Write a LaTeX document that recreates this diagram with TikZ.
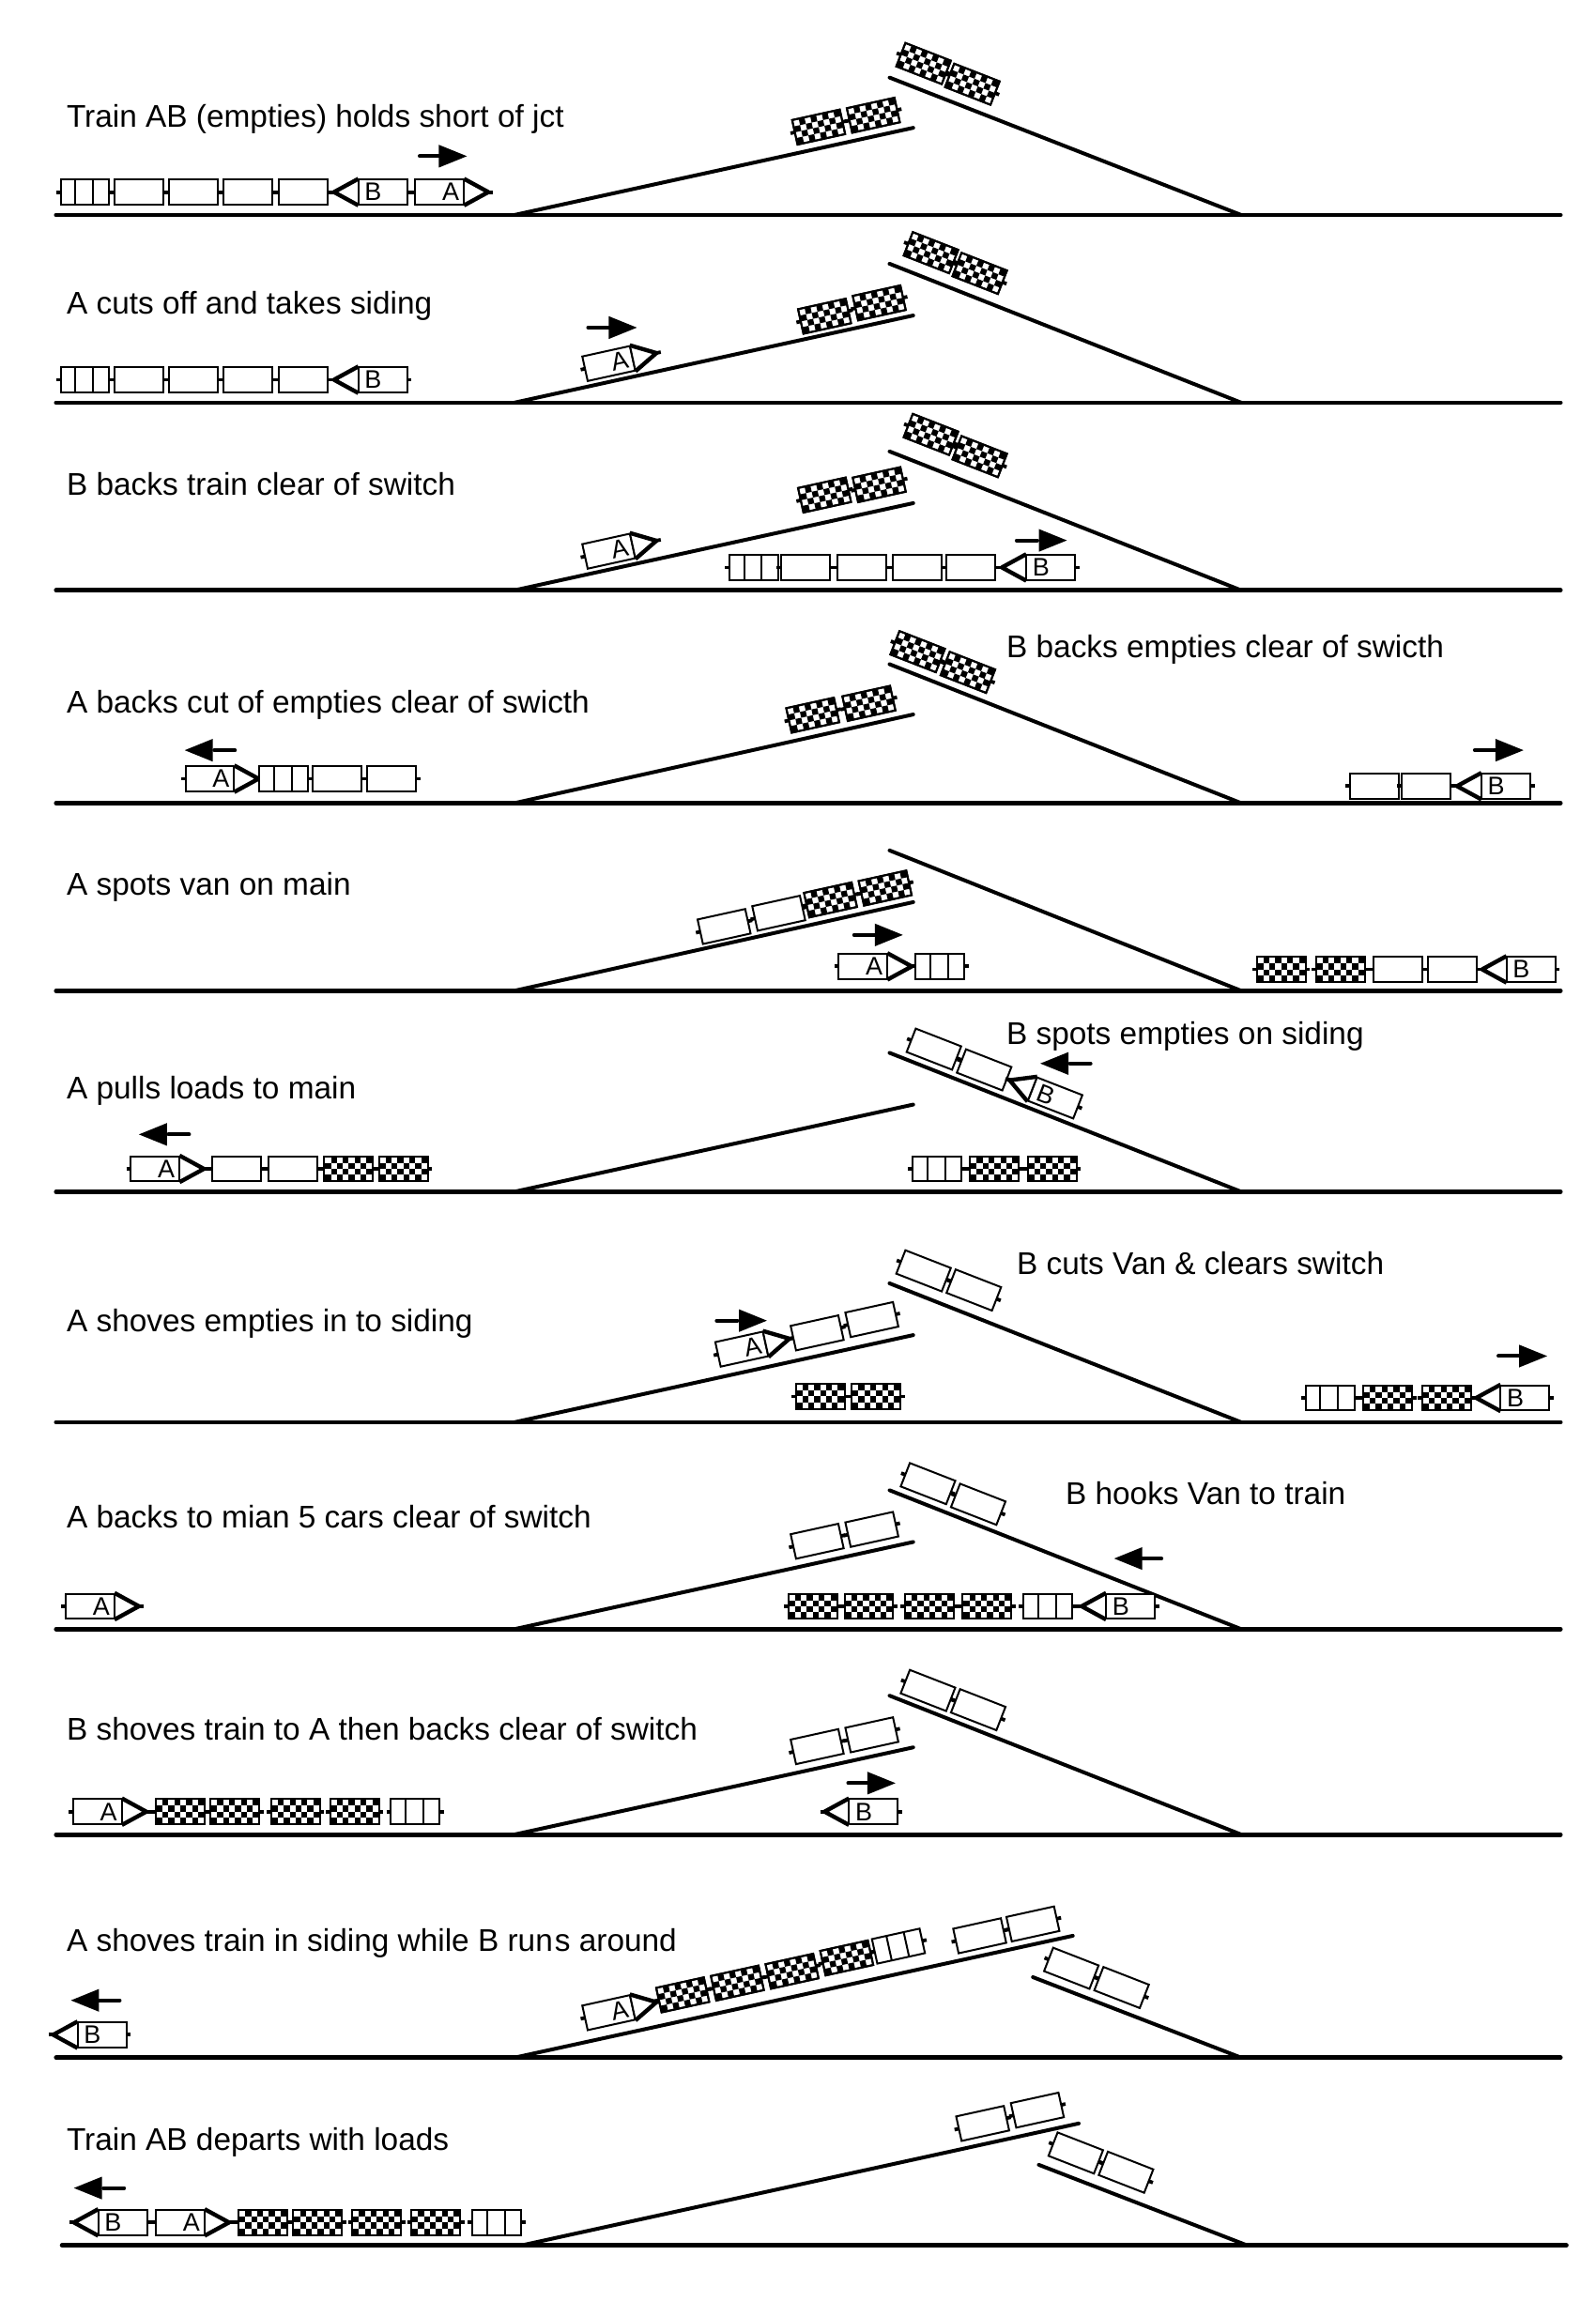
\documentclass[tikz,border=0pt]{standalone}
\usepackage{fontspec}
\setmainfont{Liberation Sans}
\tikzset{
  track/.style={line width=4pt,line cap=round,black},
  maintrack/.style={line width=4.8pt,line cap=round,black},
  body/.style={draw=black,line width=2pt,fill=white},
  coupler/.style={line width=3.8pt,black},
  nose/.style={draw=black,line width=4.4pt,fill=white,line join=round},
  captext/.style={anchor=west,inner sep=0pt,yshift=-3pt,text height=24pt,text depth=7pt,font=\fontsize{33.4}{38}\selectfont},
  loconum/.style={inner sep=0pt,font=\fontsize{27}{29}\selectfont,transform shape},
  dirhead/.style={fill=black,draw=none},
  dirtail/.style={line width=4pt,line cap=round,black}
}
\newcounter{lbl}
% plain wagon
\newcommand\carplain[3]{\begin{scope}[shift={(#1,#2)},rotate=#3]
  \draw[coupler] (-19.5,0)--(19.5,0);
  \draw[body] (-16.5,-8.5) rectangle (16.5,8.5);
\end{scope}}
% van
\newcommand\carvan[3]{\begin{scope}[shift={(#1,#2)},rotate=#3]
  \draw[coupler] (-19.5,0)--(19.5,0);
  \draw[body] (-16.5,-8.5) rectangle (16.5,8.5);
  \draw[line width=2pt] (-6.5,-8.5)--(-6.5,8.5) (5.5,-8.5)--(5.5,8.5);
\end{scope}}
% loaded wagon with checks
\newcommand\carcheck[3]{\begin{scope}[shift={(#1,#2)},rotate=#3]
  \draw[coupler] (-19.5,0)--(19.5,0);
  \draw[body] (-16.5,-8.5) rectangle (16.5,8.5);
  \foreach \i in {0,...,7}{\foreach \j in {0,...,3}{
    \pgfmathparse{int(mod(\i+\j,2))}
    \ifnum\pgfmathresult=1
      \fill[black] (-16+4*\i,-8+4*\j) rectangle ++(4,4);
    \fi}}
  \draw[draw=black,line width=2pt] (-16.5,-8.5) rectangle (16.5,8.5);
\end{scope}}
% loco, nose to the right
\newcommand\locoR[4]{\begin{scope}[shift={(#1,#2)},rotate=#3]
  \stepcounter{lbl}
  \draw[coupler] (-19.5,0)--(-16.5,0);
  \draw[coupler] (32,0)--(36,0);
  \draw[body] (-16.5,-8.5) rectangle (16.5,8.5);
  \draw[nose] (16.5,-9)--(33,0)--(16.5,9);
  \draw[line width=2pt] (16.5,-8.5)--(16.5,8.5);
  \node[loconum] (num\thelbl) at (7.5,0) {#4};
\end{scope}}
% loco, nose to the left
\newcommand\locoL[4]{\begin{scope}[shift={(#1,#2)},rotate=#3]
  \stepcounter{lbl}
  \draw[coupler] (16.5,0)--(19.5,0);
  \draw[coupler] (-36,0)--(-32,0);
  \draw[body] (-16.5,-8.5) rectangle (16.5,8.5);
  \draw[nose] (-16.5,-9)--(-33,0)--(-16.5,9);
  \draw[line width=2pt] (-16.5,-8.5)--(-16.5,8.5);
  \node[loconum] (num\thelbl) at (-6.5,0) {#4};
\end{scope}}
% direction arrows
\newcommand\moveR[3]{
  \draw[dirtail] (#1,#3+0.7)--(#1+14,#3+0.7);
  \fill[dirhead] (#2-19,#3-7)--(#2,#3+0.7)--(#2-19,#3+8.4)--cycle;}
\newcommand\moveL[3]{
  \draw[dirtail] (#2,#3+0.7)--(#2-14,#3+0.7);
  \fill[dirhead] (#1+19,#3-7)--(#1,#3+0.7)--(#1+19,#3+8.4)--cycle;}
% tracks: main y, siding rise, second rise
\newcommand\tracks[3]{
  \draw[track] (348,#1)--(618,#1-#2);
  \draw[track] (602,#1-#3)--(840,#1);
  \draw[maintrack] (38,#1)--(1056,#1);}
\newcommand\frametext[4]{\node[captext] (#1) at (#2,#3) {#4};}
\begin{document}
\begin{tikzpicture}[x=1.57407pt,y=-1.57407pt]
\useasboundingbox[fill=white] (0,0) rectangle (1080,1568);

% ---------- 1
\tracks{145.5}{59}{93}
\frametext{t1}{45}{78.5}{Train AB (empties) holds short of jct}
\carvan{57.5}{130}{0}\carplain{94}{130}{0}\carplain{131}{130}{0}\carplain{168}{130}{0}\carplain{205}{130}{0}
\locoL{259}{130}{0}{B}\locoR{297.5}{130}{0}{A}
\moveR{284}{316}{105}
\carcheck{554}{86}{12.4}\carcheck{591}{78}{12.4}
\carcheck{625}{43}{-21.3}\carcheck{658}{57}{-21.3}

% ---------- 2
\tracks{272.5}{59}{94}
\frametext{t2}{45}{205.5}{A cuts off and takes siding}
\carvan{57.5}{257}{0}\carplain{94}{257}{0}\carplain{131}{257}{0}\carplain{168}{257}{0}\carplain{205}{257}{0}
\locoL{259}{257}{0}{B}
\locoR{412}{246}{12.4}{A}
\moveR{398}{431}{221}
\carcheck{558}{214}{12.4}\carcheck{595}{205}{12.4}
\carcheck{630}{171}{-21.3}\carcheck{663}{185}{-21.3}

% ---------- 3
\tracks{399.5}{59}{94}
\frametext{t3}{45}{328}{B backs train clear of switch}
\locoR{412}{373}{12.4}{A}
\carcheck{558}{335}{12.4}\carcheck{595}{328}{12.4}
\carcheck{630}{294}{-21.3}\carcheck{663}{309}{-21.3}
\carvan{510}{384}{0}\carplain{545}{384}{0}\carplain{583}{384}{0}\carplain{621}{384}{0}\carplain{657}{384}{0}
\locoL{711}{384}{0}{B}
\moveR{688}{722}{365}

% ---------- 4
\tracks{543.5}{60}{94}
\frametext{t4}{45}{475.5}{A backs cut of empties clear of swicth}
\frametext{t4b}{681}{437.5}{B backs empties clear of swicth}
\moveL{125}{159}{507}
\locoR{142}{527}{0}{A}\carvan{192}{527}{0}\carplain{228}{527}{0}\carplain{265}{527}{0}
\carcheck{550}{484}{12.4}\carcheck{588}{476}{12.4}
\carcheck{621}{441}{-21.3}\carcheck{655}{455}{-21.3}
\carplain{930}{532}{0}\carplain{965}{532}{0}\locoL{1019}{532}{0}{B}
\moveR{998}{1031}{507}

% ---------- 5
\tracks{670.5}{60}{95}
\frametext{t5}{45}{598.5}{A spots van on main}
\carplain{490}{627}{12.4}\carplain{527}{618}{12.4}\carcheck{562}{609}{12.4}\carcheck{599}{601}{12.4}
\locoR{584}{654}{0}{A}\carvan{636}{654}{0}
\moveR{578}{611}{632}
\carcheck{867}{656}{0}\carcheck{907}{656}{0}\carplain{946}{656}{0}\carplain{983}{656}{0}\locoL{1036}{656}{0}{B}

% ---------- 6
\tracks{806.5}{59}{94}
\frametext{t6}{45}{736.5}{A pulls loads to main}
\frametext{t6b}{681}{699.5}{B spots empties on siding}
\moveL{94}{128}{767}
\locoR{105}{791}{0}{A}\carplain{160}{791}{0}\carplain{198}{791}{0}\carcheck{236}{791}{0}\carcheck{273}{791}{0}
\carvan{634}{791}{0}\carcheck{673}{791}{0}\carcheck{712}{791}{0}
\carplain{632}{710}{-21.3}\carplain{666}{724}{-21.3}\locoL{714}{743}{-21.3}{B}
\moveL{704}{738}{719}

% ---------- 7
\tracks{962.5}{59}{94}
\frametext{t7}{45}{894}{A shoves empties in to siding}
\frametext{t7b}{688}{855}{B cuts Van \& clears switch}
\locoR{502}{913}{12.4}{A}\carplain{553}{902}{12.4}\carplain{590}{893}{12.4}
\moveR{485}{519}{893}
\carcheck{555}{945}{0}\carcheck{593}{945}{0}
\carplain{625}{860}{-21.3}\carplain{659}{873}{-21.3}
\carvan{900}{946}{0}\carcheck{939}{946}{0}\carcheck{979}{946}{0}\locoL{1032}{946}{0}{B}
\moveR{1014}{1047}{917}

% ---------- 8
\tracks{1102.5}{59}{94}
\frametext{t8}{45}{1026.5}{A backs to mian 5 cars clear of switch}
\frametext{t8b}{721}{1011}{B hooks Van to train}
\locoR{61}{1087}{0}{A}
\carplain{553}{1043}{12.4}\carplain{590}{1035}{12.4}
\carplain{628}{1004}{-21.3}\carplain{662}{1018}{-21.3}
\carcheck{550}{1087}{0}\carcheck{588}{1087}{0}\carcheck{629}{1087}{0}\carcheck{668}{1087}{0}\carvan{709}{1087}{0}\locoL{765}{1087}{0}{B}
\moveL{754}{786}{1054}

% ---------- 9
\tracks{1241.5}{59}{94}
\frametext{t9}{45}{1170}{B shoves train to A then backs clear of switch}
\locoR{66}{1226}{0}{A}\carcheck{122}{1226}{0}\carcheck{159}{1226}{0}\carcheck{200}{1226}{0}\carcheck{240}{1226}{0}\carvan{281}{1226}{0}
\carplain{553}{1182}{12.4}\carplain{590}{1174}{12.4}
\carplain{628}{1144}{-21.3}\carplain{662}{1157}{-21.3}
\locoL{591}{1226}{0}{B}
\moveR{574}{606}{1206}

% ---------- 10
\draw[track] (348,1392.5)--(726,1310);
\draw[track] (699,1338)--(840,1392.5);
\draw[maintrack] (38,1392.5)--(1056,1392.5);
\frametext{t10}{45}{1313}{A shoves train in siding while B run\hspace{2pt}s around}
\moveL{48}{81}{1353}
\locoL{69}{1377}{0}{B}
\locoR{412}{1362}{12.4}{A}\carcheck{462}{1350}{12.4}\carcheck{499}{1342}{12.4}\carcheck{536}{1334}{12.4}\carcheck{573}{1325}{12.4}\carvan{608}{1317}{12.4}
\carplain{663}{1310}{12.4}\carplain{699}{1302}{12.4}
\carplain{725}{1332}{-21.3}\carplain{759}{1345}{-21.3}

% ---------- 11
\draw[track] (353,1519.5)--(730,1437);
\draw[track] (703,1465)--(844,1519.5);
\draw[maintrack] (42,1519.5)--(1060,1519.5);
\frametext{t11}{45}{1448}{Train AB departs with loads}
\moveL{50}{84}{1480}
\locoL{83}{1504}{0}{B}\locoR{122}{1504}{0}{A}\carcheck{178}{1504}{0}\carcheck{215}{1504}{0}\carcheck{255}{1504}{0}\carcheck{295}{1504}{0}\carvan{336}{1504}{0}
\carplain{665}{1437}{12.4}\carplain{702}{1428}{12.4}
\carplain{728}{1457}{-21.3}\carplain{762}{1470}{-21.3}
\end{tikzpicture}
\end{document}
